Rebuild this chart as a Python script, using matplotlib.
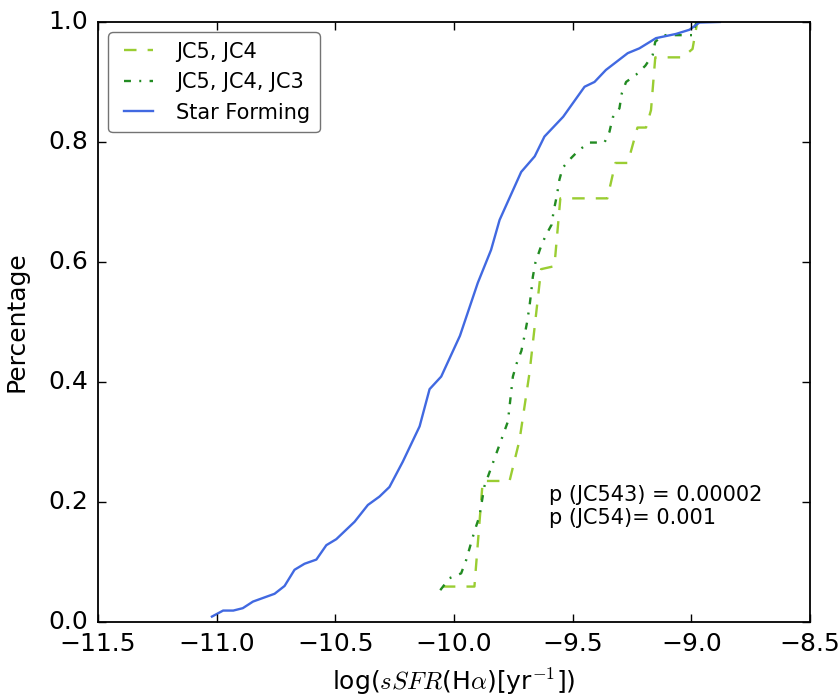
import matplotlib
matplotlib.use("Agg")
import matplotlib.pyplot as plt

# cumulative curves (log sSFR, cumulative fraction)
jc54_x = [-10.047, -9.914, -9.879, -9.766, -9.724, -9.682, -9.633, -9.577,
          -9.552, -9.354, -9.320, -9.268, -9.227, -9.191, -9.170, -9.152,
          -9.037, -8.995, -8.975]
jc54_y = [0.059, 0.059, 0.235, 0.235, 0.303, 0.415, 0.588, 0.593,
          0.706, 0.706, 0.765, 0.765, 0.824, 0.824, 0.853, 0.941,
          0.941, 0.955, 1.000]

jc543_x = [-10.058, -10.019, -9.970, -9.949, -9.914, -9.893, -9.872, -9.816,
           -9.773, -9.752, -9.736, -9.716, -9.703, -9.692, -9.682, -9.675,
           -9.668, -9.657, -9.637, -9.615, -9.589, -9.580, -9.567, -9.556,
           -9.542, -9.507, -9.472, -9.429, -9.366, -9.345, -9.331, -9.303,
           -9.293, -9.275, -9.233, -9.194, -9.163, -9.152, -9.118, -8.995,
           -8.980, -8.966]
jc543_y = [0.053, 0.073, 0.081, 0.103, 0.151, 0.176, 0.226, 0.287,
           0.334, 0.409, 0.431, 0.452, 0.477, 0.500, 0.526, 0.549,
           0.575, 0.599, 0.622, 0.643, 0.662, 0.685, 0.710, 0.737,
           0.757, 0.773, 0.787, 0.799, 0.799, 0.817, 0.841, 0.856,
           0.881, 0.900, 0.912, 0.927, 0.945, 0.967, 0.978, 0.978,
           0.998, 1.000]

sf_x = [-11.020, -10.973, -10.930, -10.890, -10.847, -10.756, -10.714, -10.672,
        -10.630, -10.580, -10.538, -10.496, -10.419, -10.363, -10.314, -10.272,
        -10.216, -10.145, -10.103, -10.054, -9.975, -9.900, -9.844, -9.808,
        -9.717, -9.660, -9.619, -9.540, -9.450, -9.408, -9.360, -9.268,
        -9.219, -9.149, -9.065, -9.008, -8.966, -8.880]
sf_y = [0.009, 0.019, 0.019, 0.023, 0.034, 0.047, 0.060, 0.087,
        0.097, 0.104, 0.128, 0.138, 0.167, 0.195, 0.209, 0.225,
        0.267, 0.326, 0.388, 0.409, 0.477, 0.565, 0.620, 0.670,
        0.750, 0.776, 0.809, 0.842, 0.892, 0.900, 0.920, 0.948,
        0.956, 0.973, 0.980, 0.987, 0.999, 1.000]

xticks = [-11.5, -11.0, -10.5, -10.0, -9.5, -9.0, -8.5]
yticks = [0.0, 0.2, 0.4, 0.6, 0.8, 1.0]


def main():
    plt.style.use("classic")
    plt.rcParams["lines.scale_dashes"] = False
    plt.rcParams["mathtext.fontset"] = "cm"

    fig = plt.figure(figsize=(8.4, 6.99), dpi=100, facecolor="white")
    ax = fig.add_axes([0.1167, 0.1102, 0.8476, 0.8584])

    ax.plot(jc54_x, jc54_y, color="yellowgreen", lw=1.7,
            linestyle=(0, (9, 8)), label="JC5, JC4")
    ax.plot(jc543_x, jc543_y, color="forestgreen", lw=1.7,
            linestyle=(0, (5, 6, 1.4, 6)), label="JC5, JC4, JC3")
    ax.plot(sf_x, sf_y, color="royalblue", lw=1.7, label="Star Forming")

    ax.set_xlim(-11.5, -8.5)
    ax.set_ylim(0, 1.0)
    ax.set_xticks(xticks)
    ax.set_yticks(yticks)
    ax.set_xticklabels(["\u2212%.1f" % abs(t) for t in xticks])
    ax.set_yticklabels(["%.1f" % t for t in yticks])
    ax.tick_params(labelsize=18, length=6, width=1, direction="in",
                   top=True, right=True, pad=7)
    for s in ax.spines.values():
        s.set_linewidth(1.3)

    ax.set_xlabel(r"log($sSFR$(H$\alpha$)[yr$^{-1}$])", fontsize=18,
                  labelpad=8)
    ax.set_ylabel("Percentage", fontsize=18, labelpad=14)

    ax.text(-9.6, 0.228, "p (JC543) = 0.00002\np (JC54)= 0.001",
            fontsize=15, va="top", ha="left")

    leg = ax.legend(loc="upper left", fontsize=15, fancybox=True,
                    handlelength=2, borderpad=0.45, labelspacing=0.5)
    leg.get_frame().set_edgecolor("0.45")
    leg.get_frame().set_linewidth(1.0)

    fig.savefig("out.png", dpi=100, facecolor="white")


if __name__ == "__main__":
    main()
